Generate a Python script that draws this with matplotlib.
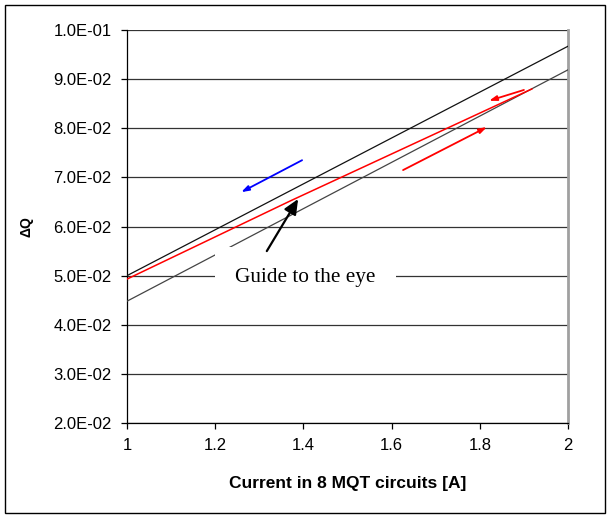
import matplotlib
matplotlib.use('Agg')
import matplotlib.pyplot as plt
from matplotlib.patches import Rectangle

# data
upper_x = [1.0, 2.0]
upper_y = [0.0500, 0.0967]
lower_x = [1.0, 2.0]
lower_y = [0.0448, 0.0919]
meas_x = [1.0, 1.37, 1.918]
meas_y = [0.0493, 0.0652, 0.0880]

# arrows: (tail_x, tail_y, head_x, head_y, colour)
arrows = [
    (1.626, 0.07149, 1.816, 0.08024, 'red'),
    (1.900, 0.0878, 1.821, 0.0856, 'red'),
    (1.397, 0.0735, 1.259, 0.0670, 'blue'),
]
guide_text = 'Guide to the eye'
guide_pos = (1.404, 0.0497)
guide_tip = (1.388, 0.0656)
guide_tail = (1.317, 0.0550)

xticks = [1, 1.2, 1.4, 1.6, 1.8, 2]
xtick_labels = ['1', '1.2', '1.4', '1.6', '1.8', '2']
yticks = [0.02, 0.03, 0.04, 0.05, 0.06, 0.07, 0.08, 0.09, 0.10]
ytick_labels = ['2.0E-02', '3.0E-02', '4.0E-02', '5.0E-02', '6.0E-02',
                '7.0E-02', '8.0E-02', '9.0E-02', '1.0E-01']

plt.rcParams['font.family'] = ['Liberation Sans', 'DejaVu Sans']

fig = plt.figure(figsize=(6.08, 5.15), dpi=100)
ax = fig.add_axes([0.2089, 0.1786, 0.7253, 0.7631])

# outer frame
fig.patches.append(Rectangle((5 / 608, 2 / 515), 600 / 608, 508 / 515,
                             transform=fig.transFigure, fill=False,
                             edgecolor='black', linewidth=1.0))

for y in yticks:
    ax.axhline(y, color='#333333', linewidth=0.9, zorder=1)

ax.plot(upper_x, upper_y, color='#111111', linewidth=0.9, zorder=3)
ax.plot(lower_x, lower_y, color='#444444', linewidth=0.9, zorder=3)
ax.plot(meas_x, meas_y, color='red', linewidth=1.1, zorder=4)

for tx, ty, hx, hy, c in arrows:
    ax.annotate('', xy=(hx, hy), xytext=(tx, ty),
                arrowprops=dict(arrowstyle='-|>,head_length=0.45,head_width=0.15',
                                color=c, linewidth=1.3, shrinkA=0, shrinkB=0),
                zorder=5)

ax.annotate('', xy=guide_tip, xytext=guide_tail,
            arrowprops=dict(arrowstyle='-|>,head_length=0.9,head_width=0.4',
                            color='black', linewidth=1.6, shrinkA=0, shrinkB=0),
            zorder=6)

ax.text(guide_pos[0], guide_pos[1], guide_text, family='Liberation Serif',
        fontsize=15.3, ha='center', va='center', zorder=5,
        bbox=dict(boxstyle='square,pad=0.95', facecolor='white', edgecolor='none'))

ax.set_xlim(1, 2)
ax.set_ylim(0.02, 0.10)
ax.set_xticks(xticks)
ax.set_xticklabels(xtick_labels, fontsize=12)
ax.set_yticks(yticks)
ax.set_yticklabels(ytick_labels, fontsize=12)
ax.tick_params(direction='out', length=4, width=0.9, color='black', pad=7)

ax.spines['top'].set_visible(False)
ax.spines['right'].set_color('#a0a0a0')
ax.spines['right'].set_linewidth(2)
ax.spines['left'].set_linewidth(0.9)
ax.spines['bottom'].set_linewidth(0.9)

ax.set_xlabel('Current in 8 MQT circuits [A]', fontsize=12.5, fontweight='bold', labelpad=16.5)
ax.set_ylabel('ΔQ', fontsize=10, fontweight='bold', labelpad=14)

fig.savefig('out.png', dpi=100)
